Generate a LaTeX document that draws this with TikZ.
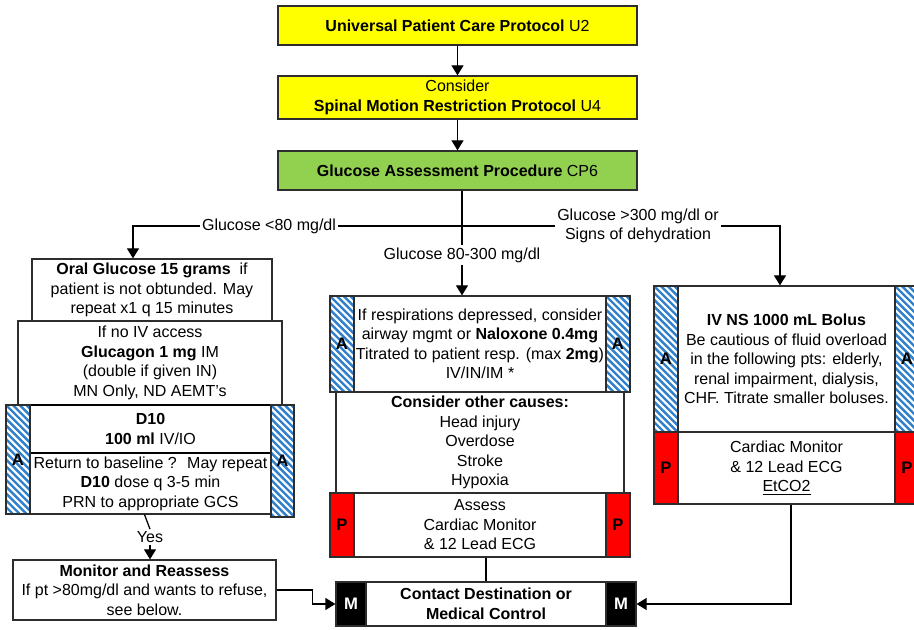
\documentclass[tikz,border=0pt]{standalone}
\usepackage{fontspec}
\setmainfont{Liberation Sans}
\usetikzlibrary{calc,arrows.meta}

\definecolor{protoyellow}{RGB}{255,255,0}
\definecolor{procgreen}{RGB}{146,208,80}
\definecolor{stripeblue}{RGB}{48,128,204}
\definecolor{paramred}{RGB}{255,0,0}
\definecolor{edgegray}{RGB}{45,45,45}

\tikzset{
  % a rectangle given by its corners left/top/right/bottom in picture units
  span/.style args={#1/#2/#3/#4}{
    minimum width={(#3-#1)*0.75pt}, minimum height={(#4-#2)*0.75pt},
    at={({(#1+#3)/2},{(#2+#4)/2})}},
  txt/.style={font=\fontsize{12}{14.6}\selectfont, align=center},
  box/.style={txt, draw=edgegray, line width=0.95pt, fill=white, inner sep=0pt},
  proto/.style={box, fill=protoyellow},
  proc/.style={box, fill=procgreen},
  barbase/.style={draw=edgegray, line width=0.95pt, inner sep=0pt,
    font=\fontsize{12.5}{14}\selectfont\bfseries},
  abar/.style={barbase,
    path picture={
      \fill[white] (path picture bounding box.south west)
        rectangle (path picture bounding box.north east);
      \foreach \k in {-36,...,8}
        \draw[stripeblue, line width=1.8pt]
          ([xshift=\k*5.1pt]path picture bounding box.north west)
          -- ++(150pt,-150pt);
    }},
  pbar/.style={barbase, fill=paramred},
  mbar/.style={barbase, fill=black, text=white},
  lbl/.style={txt, inner sep=1.5pt},
  conn/.style={draw=black, line width=0.95pt},
  arr/.style={conn, -{Triangle[width=9pt,length=7.5pt]}}
}

\begin{document}
\begin{tikzpicture}[x=0.75pt, y=-0.75pt]
  \useasboundingbox (0,0) rectangle (914,630);
  \fill[white] (0,0) rectangle (914,630);
  \clip (0,0) rectangle (914,630);

  % protocol header chain
  \node[proto, span=278/6/637/45] (u2)
    {\textbf{Universal Patient Care Protocol} U2};
  \node[proto, span=278/76/637/119] (u4)
    {Consider\\\textbf{Spinal Motion Restriction Protocol} U4};
  \node[proc, span=278/151/637/190] (cp6)
    {\textbf{Glucose Assessment Procedure} CP6};

  % branch labels
  \node[lbl] (g80) at (269,226) {Glucose <80 mg/dl};
  \node[lbl] (g300) at (638,226) {Glucose >300 mg/dl or\\Signs of dehydration};
  \node[lbl] (gmid) at (462,255) {Glucose 80-300 mg/dl};
  \coordinate (lturn) at (133,226);
  \coordinate (rturn) at (780,226);

  % low glucose column
  \node[box, span=32/259/272/321] (oral)
    {\textbf{Oral Glucose 15 grams}~ if\\patient is not obtunded. May\\repeat x1 q 15 minutes};
  \node[box, span=18/321/282/405] (glucagon)
    {If no IV access\\\textbf{Glucagon 1 mg} IM\\(double if given IN)\\MN Only, ND AEMT's};
  \node[box, span=30/453/271/514] (ret)
    {Return to baseline ?~ May repeat\\\textbf{D10} dose q 3-5 min\\PRN to appropriate GCS};
  \node[box, line width=1.4pt, draw=black, span=30/405/271/453] (d10)
    {\textbf{D10}\\\textbf{100 ml} IV/IO};
  \node[abar, span=6/405/30/514] (a1l) {A};
  \node[abar, span=271/405/294/517] (a1r) {A};
  \node[lbl] (yes) at (150,537) {Yes};
  \node[box, span=13/560/276/620] (monitor)
    {\textbf{Monitor and Reassess}\\If pt >80mg/dl and wants to refuse,\\see below.};

  % normal range column
  \node[box, span=336/392/624/493] (causes)
    {\textbf{Consider other causes:}\\Head injury\\Overdose\\Stroke\\Hypoxia};
  \node[box, span=354/296/606/392] (nalox)
    {If respirations depressed, consider\\airway mgmt or \textbf{Naloxone 0.4mg}\\Titrated to patient resp. (max \textbf{2mg})\\IV/IN/IM *};
  \node[abar, span=330/296/354/392] (a2l) {A};
  \node[abar, span=606/296/630/392] (a2r) {A};
  \node[box, span=354/493/606/557] (assess)
    {Assess\\Cardiac Monitor\\\& 12 Lead ECG};
  \node[pbar, span=330/493/354/557] (p2l) {P};
  \node[pbar, span=606/493/630/557] (p2r) {P};

  % high glucose column
  \node[box, span=678/286/895/432] (ivns)
    {\textbf{IV NS 1000 mL Bolus}\\Be cautious of fluid overload\\in the following pts: elderly,\\renal impairment, dialysis,\\CHF. Titrate smaller boluses.};
  \node[abar, span=654/286/678/432] (a3l) {A};
  \node[abar, span=895/286/919/432] (a3r) {A};
  \node[box, span=678/432/895/504] (ivp)
    {Cardiac Monitor\\\& 12 Lead ECG\\\underline{EtCO2}};
  \node[pbar, span=654/432/678/504] (p3l) {P};
  \node[pbar, span=895/432/919/504] (p3r) {P};

  % destination contact
  \node[box, span=366/582/606/626] (contact)
    {\textbf{Contact Destination or}\\\textbf{Medical Control}};
  \node[mbar, span=336/582/366/626] (m1) {M};
  \node[mbar, span=606/582/636/626] (m2) {M};

  % connectors
  \draw[arr] (u2.south) -- (u4.north);
  \draw[arr] (u4.south) -- (cp6.north);
  \draw[conn] (cp6.south -| gmid) -- (gmid.north);
  \draw[arr] (gmid.south) -- (gmid.south |- nalox.north);
  \draw[conn] (g300.west) -- (g80.east);
  \draw[arr] (g80.west) -- (lturn) -- (lturn |- oral.north);
  \draw[arr] (g300.east) -- (rturn) -- (rturn |- ivns.north);
  \draw[conn] ([xshift=-4.5pt]ret.south) -- (yes.north);
  \draw[arr] (yes.south) -- (yes.south |- monitor.north);
  \draw[conn] ([xshift=4.5pt]assess.south) -- ([xshift=4.5pt]assess.south |- contact.north);
  \draw[arr] ([xshift=3.4pt]ivp.south) |- (m2.east);
  \draw[arr] (monitor.east) -- ++(36,0) |- (m1.west);
\end{tikzpicture}
\end{document}
